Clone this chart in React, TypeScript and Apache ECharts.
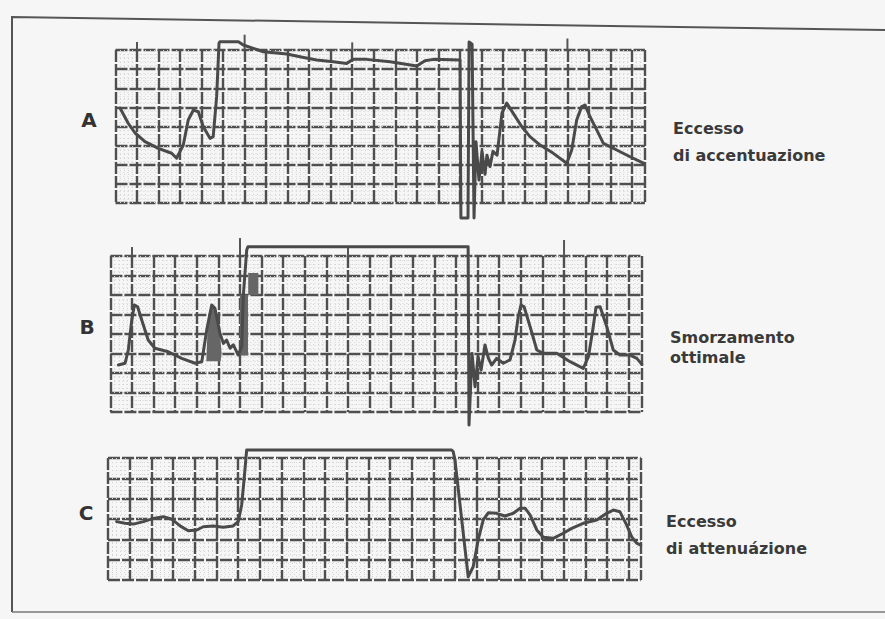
import React, { useEffect, useRef } from "react";
import * as echarts from "echarts";

// Waveforms, x in major grid cells from the left edge, y in major cells from the bottom edge
const waveA: number[][] = [
  [0.21, 4.97], [0.59, 4.17], [0.91, 3.66], [1.37, 3.21], [1.99, 2.86], [2.61, 2.6], [2.84, 2.34],
  [3.15, 3.03], [3.38, 4.34], [3.62, 4.86], [3.85, 4.77], [4.08, 3.99], [4.39, 3.38], [4.54, 3.47],
  [4.7, 5.56], [4.81, 8.35], [4.85, 8.43], [5.71, 8.43], [5.94, 8.26], [6.87, 7.91], [7.96, 7.79],
  [8.57, 7.65], [9.35, 7.48], [10.12, 7.39], [10.74, 7.3], [11.04, 7.51], [11.67, 7.51], [12.76, 7.39],
  [14.0, 7.16], [14.38, 7.44], [14.77, 7.51], [16.01, 7.48], [16.05, -0.78], [16.38, -0.78],
  [16.43, 8.42], [16.57, 8.3], [16.66, -0.78], [16.75, 3.2], [16.89, 1.2], [17.03, 2.7], [17.17, 1.5],
  [17.26, 2.5], [17.4, 1.9], [17.54, 2.7], [17.73, 2.5], [17.96, 4.71], [18.18, 5.22], [18.88, 3.99],
  [19.26, 3.47], [19.73, 3.03], [20.33, 2.61], [20.97, 2.08], [21.2, 2.77], [21.43, 4.34], [21.66, 5.04],
  [21.82, 5.12], [22.05, 4.51], [22.36, 3.82], [22.67, 3.12], [23.29, 2.77], [23.91, 2.42], [24.53, 2.08],
];

const waveB: number[][] = [
  [0.37, 2.41], [0.68, 2.5], [0.83, 3.18], [0.99, 4.72], [1.11, 5.49], [1.26, 5.4], [1.45, 4.72],
  [1.75, 3.69], [2.06, 3.27], [2.68, 3.09], [3.3, 2.75], [3.92, 2.5], [4.23, 2.58], [4.46, 4.21],
  [4.69, 5.49], [4.84, 5.32], [5.07, 4.04], [5.23, 3.52], [5.38, 3.69], [5.54, 3.27], [5.69, 3.44],
  [5.92, 2.92], [6.08, 3.35], [6.15, 5.91], [6.31, 8.31], [6.37, 8.48], [16.56, 8.48], [16.6, -0.67],
  [16.74, 3.0], [16.88, 1.3], [17.02, 2.84], [17.16, 2.15], [17.34, 3.44], [17.5, 2.75], [17.65, 2.41],
  [17.88, 2.75], [18.19, 2.5], [18.5, 2.67], [18.73, 3.69], [18.88, 4.89], [19.01, 5.49], [19.15, 5.4],
  [19.43, 4.37], [19.74, 3.18], [20.04, 3.01], [20.66, 3.01], [21.28, 2.58], [21.89, 2.24], [22.13, 2.84],
  [22.33, 4.21], [22.48, 5.37], [22.67, 5.4], [22.98, 4.37], [23.28, 3.18], [23.59, 2.92], [24.06, 2.92],
  [24.37, 2.75], [24.6, 2.45],
];

const waveC: number[][] = [
  [0.4, 2.87], [0.78, 2.79], [1.17, 2.75], [1.63, 2.87], [2.09, 3.03], [2.55, 3.11], [2.94, 2.99],
  [3.32, 2.66], [3.7, 2.42], [4.09, 2.46], [4.39, 2.62], [4.85, 2.66], [5.31, 2.59], [5.77, 2.66],
  [6.0, 2.87], [6.16, 3.69], [6.27, 4.92], [6.39, 6.39], [15.84, 6.39], [15.91, 6.31], [15.99, 5.9],
  [16.6, 0.16], [16.83, 0.65], [17.06, 1.97], [17.29, 2.95], [17.53, 3.31], [17.91, 3.28], [18.29, 3.15],
  [18.68, 3.28], [18.99, 3.53], [19.22, 3.53], [19.45, 3.2], [19.76, 2.46], [20.06, 2.1], [20.52, 2.05],
  [20.98, 2.3], [21.37, 2.54], [21.9, 2.79], [22.52, 2.95], [22.98, 3.28], [23.29, 3.44], [23.59, 3.36],
  [23.9, 2.71], [24.13, 2.13], [24.36, 1.81], [24.55, 1.72],
];

// Time markers above the grids: [cell, top]
const markersA: number[][] = [[1, 8.42], [6, 8.8], [11, 8.4], [21, 8.6]];
const markersB: number[][] = [[1, 8.46], [6, 8.92], [11, 8.48], [21, 8.82]];

// Dark shaded patches in panel B
const shadeB: number[][][] = [
  [[4.44, 2.6], [4.5, 4.3], [4.69, 5.49], [4.84, 5.32], [5.07, 4.04], [5.15, 3.0], [5.1, 2.6]],
  [[6.0, 2.9], [6.0, 6.0], [6.37, 6.0], [6.37, 2.9]],
  [[6.38, 6.0], [6.38, 7.13], [6.85, 7.13], [6.85, 6.0]],
];

const panelLabels = ["A", "B", "C"];
const captions = [
  ["Eccesso", "di accentuazione"],
  ["Smorzamento", "ottimale"],
  ["Eccesso", "di attenuázione"],
];
const xMax = [24.6, 24.6, 24.55];
const yMax = [8, 8, 6];

const INK = "#4a4a4a";

export default function App() {
  const ref = useRef<HTMLDivElement>(null);
  useEffect(() => {
    if (!ref.current) return;
    const chart = echarts.init(ref.current, undefined, { renderer: "svg" });

    const grids = [
      { left: 115.5, top: 50, width: 529.4, height: 153 },
      { left: 110.4, top: 256, width: 531.4, height: 156 },
      { left: 108, top: 458, width: 532.7, height: 122 },
    ];
    const major = { show: true, lineStyle: { color: "#4f4f4f", width: 2.4, type: [12, 2] as any } };
    const minor = { show: true, lineStyle: { color: "#d3d3d3", width: 1, type: [1, 3] as any } };
    const xAxis = grids.map((_, i) => ({
      type: "value", gridIndex: i, min: 0, max: xMax[i], interval: 1,
      axisLine: { show: false }, axisTick: { show: false }, axisLabel: { show: false },
      splitLine: major, minorTick: { show: false, splitNumber: 5 }, minorSplitLine: minor,
    }));
    const yAxis = grids.map((_, i) => ({
      type: "value", gridIndex: i, min: 0, max: yMax[i], interval: 1,
      axisLine: { show: false }, axisTick: { show: false }, axisLabel: { show: false },
      splitLine: major, minorTick: { show: false, splitNumber: 5 }, minorSplitLine: minor,
    }));

    const waveSeries = [waveA, waveB, waveC].map((d, i) => ({
      type: "line", xAxisIndex: i, yAxisIndex: i, data: d, symbol: "none", clip: false,
      lineStyle: { color: INK, width: 3, join: "round", cap: "round" }, z: 5,
    }));

    const markerSeries = [markersA, markersB].map((m, i) => ({
      type: "custom", xAxisIndex: i, yAxisIndex: i, clip: false, z: 4,
      data: m.map(([x, t]) => [x, yMax[i], t]),
      encode: { x: 0, y: [1, 2] },
      renderItem: (_p: any, api: any) => {
        const a = api.coord([api.value(0), api.value(1)]);
        const b = api.coord([api.value(0), api.value(2)]);
        return { type: "line", shape: { x1: a[0], y1: a[1], x2: b[0], y2: b[1] }, style: { stroke: "#555", lineWidth: 2 } };
      },
    }));

    const shadeSeries = {
      type: "custom", xAxisIndex: 1, yAxisIndex: 1, clip: false, z: 4,
      data: shadeB.map((_, k) => [k]),
      encode: { x: 0 },
      renderItem: (_p: any, api: any) => {
        const pts = shadeB[api.value(0)].map((p) => api.coord(p));
        return { type: "polygon", shape: { points: pts }, style: { fill: "#666" } };
      },
    };

    const labelPos = [[89, 120], [87, 327], [86, 513]];
    const capPos = [[673, 128, 155], [670, 337, 357], [666, 521, 548]];
    const graphic: any[] = [
      { type: "polyline", shape: { points: [[12, 612], [12, 17], [885, 30]] }, style: { stroke: "#555", lineWidth: 2, fill: null } },
      { type: "line", shape: { x1: 12, y1: 612, x2: 885, y2: 612 }, style: { stroke: "#777", lineWidth: 1.5 } },
    ];
    panelLabels.forEach((t, i) => {
      graphic.push({
        type: "text", x: labelPos[i][0], y: labelPos[i][1],
        style: { text: t, font: 'bold 20px "DejaVu Sans"', fill: "#333", align: "center", verticalAlign: "middle" },
      });
      graphic.push({
        type: "text", x: capPos[i][0], y: capPos[i][1],
        style: { text: captions[i][0], font: 'bold 16px "DejaVu Sans"', fill: "#3a3a3a", align: "left", verticalAlign: "middle" },
      });
      graphic.push({
        type: "text", x: capPos[i][0], y: capPos[i][2],
        style: { text: captions[i][1], font: 'bold 16px "DejaVu Sans"', fill: "#3a3a3a", align: "left", verticalAlign: "middle" },
      });
    });

    chart.setOption({
      animation: false,
      backgroundColor: "#f6f6f6",
      grid: grids,
      xAxis,
      yAxis,
      series: [...waveSeries, ...markerSeries, shadeSeries],
      graphic,
    } as any);
    return () => chart.dispose();
  }, []);
  return <div ref={ref} style={{ position: "fixed", left: 0, top: 0, width: 885, height: 619 }} />;
}
